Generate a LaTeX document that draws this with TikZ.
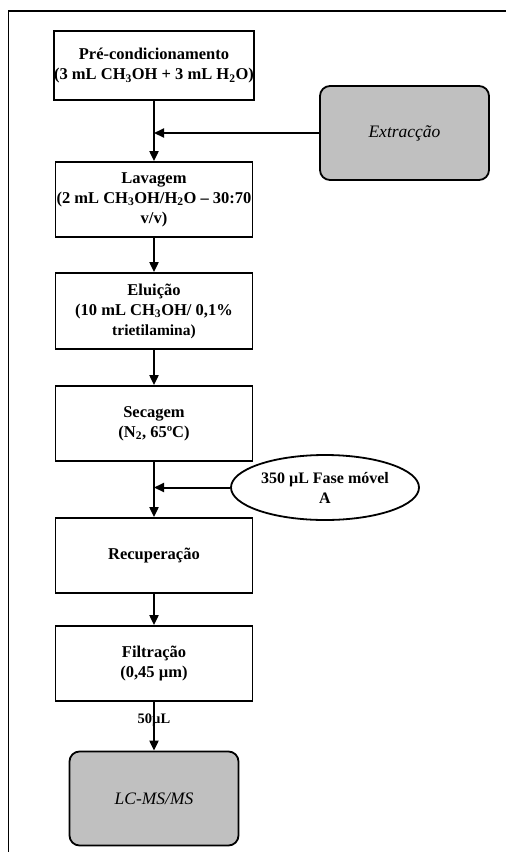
\documentclass[tikz,border=0pt]{standalone}
\usepackage{fontspec}
\setmainfont{Liberation Serif}
\usetikzlibrary{arrows.meta, shapes, positioning, calc}
\definecolor{boxgray}{HTML}{C0C0C0}

\begin{document}
\begin{tikzpicture}[x=1pt, y=-1pt,
    etapa/.style={draw, line width=1.8pt, minimum width=197pt, minimum height=75pt, align=center, inner sep=0pt, font=\fontsize{16.5}{20}\selectfont\bfseries},
    externo/.style={draw, line width=1.8pt, fill=boxgray, rounded corners=10pt, minimum width=169pt, minimum height=94pt, font=\fontsize{17.5}{21}\selectfont\itshape},
    seta/.style={line width=2pt, -{Triangle[length=10pt, width=9pt]}}]
  \useasboundingbox (0,0) rectangle (506,852);
  \draw[line width=1.3pt] (506,11) -- (8.5,11) -- (8.5,852);

  % etapas do processo
  \node[etapa, minimum height=69pt] (precond) at (154,65.5) {Pré-condicionamento\\(3 mL CH\textsubscript{3}OH + 3 mL H\textsubscript{2}O)};
  \node[etapa] (lavagem) at (154,199.5) {Lavagem\\(2 mL CH\textsubscript{3}OH/H\textsubscript{2}O – 30:70\\v/v)};
  \node[etapa, minimum height=76pt] (eluicao) at (154,311) {Eluição\\(10 mL CH\textsubscript{3}OH/ 0,1\%\\{\fontsize{15.5}{19}\selectfont trietilamina)}};
  \node[etapa] (secagem) at (154,423.5) {Secagem\\(N\textsubscript{2}, 65ºC)};
  \node[etapa] (recup) at (154,555.5) {Recuperação};
  \node[etapa] (filtr) at (154,663.5) {Filtração\\(0,45 µm)};

  % entradas e saida
  \node[externo] (extr) at (404.5,133) {Extracção};
  \node[externo] (lcms) at (154,798.5) {LC-MS/MS};
  \node[draw, ellipse, line width=1.8pt, minimum width=188pt, minimum height=65pt, inner sep=0pt, align=center, font=\fontsize{16}{20}\selectfont\bfseries] (fase) at (325,487.5) {350 µL Fase móvel\\A};

  \coordinate (j1) at (precond.south |- extr.west);
  \coordinate (j2) at (secagem.south |- fase.west);

  \draw[seta] (precond) -- (lavagem);
  \draw[seta] (extr.west) -- (j1);
  \draw[seta] (lavagem) -- (eluicao);
  \draw[seta] (eluicao) -- (secagem);
  \draw[seta] (secagem) -- (recup);
  \draw[seta] (fase.west) -- (j2);
  \draw[seta] (recup) -- (filtr);
  \draw[seta] (filtr) -- node[font=\fontsize{14.5}{16}\selectfont\bfseries, inner sep=0pt, pos=0.38] (vol) {50µL} (lcms);
\end{tikzpicture}
\end{document}
